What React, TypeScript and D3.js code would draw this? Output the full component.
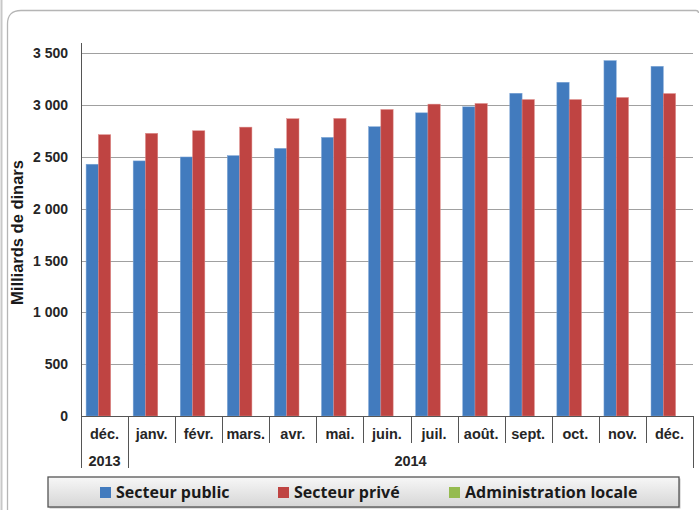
import React from "react";
import * as d3 from "d3";

const months = ["déc.", "janv.", "févr.", "mars.", "avr.", "mai.", "juin.", "juil.", "août.", "sept.", "oct.", "nov.", "déc."];
const years = [
  { label: "2013", start: 0, end: 1 },
  { label: "2014", start: 1, end: 13 },
];
const seriesNames = ["Secteur public", "Secteur privé", "Administration locale"];
const secteurPublic = [2430, 2462, 2500, 2513, 2583, 2689, 2792, 2926, 2984, 3115, 3221, 3430, 3375];
const secteurPrive = [2715, 2728, 2753, 2788, 2869, 2872, 2958, 3010, 3016, 3054, 3054, 3074, 3112];
const adminLocale = [0, 0, 0, 0, 0, 0, 0, 0, 0, 0, 0, 0, 0];
const yTicks = [0, 500, 1000, 1500, 2000, 2500, 3000, 3500];
const colors = ["#427BBE", "#BF4442", "#95BB4F"];

const W = 699;
const H = 510;
const plotLeft = 81;
const plotRight = 693;
const plotTop = 43;
const plotBottom = 416;

const fmt = (v: number) => {
  const s = String(v);
  return s.length > 3 ? s.slice(0, s.length - 3) + " " + s.slice(s.length - 3) : s;
};

export default function App() {
  const series = [secteurPublic, secteurPrive, adminLocale];
  const x0 = d3.scaleBand<number>().domain(d3.range(months.length)).range([plotLeft, plotRight]).paddingInner(0).paddingOuter(0);
  const bw = x0.bandwidth();
  const x1 = d3.scaleBand<number>().domain([0, 1, 2]).range([0, bw]).paddingInner(0).paddingOuter(0.415);
  const y = d3.scaleLinear().domain([0, 3600]).range([plotBottom, plotTop]);
  const font = "'Liberation Sans', Arial, sans-serif";
  const legendItems = [
    { x: 100, i: 0 },
    { x: 278, i: 1 },
    { x: 449, i: 2 },
  ];
  return (
    <svg width={W} height={H} style={{ position: "absolute", left: 0, top: 0, background: "#fff" }}>
      <defs>
        <linearGradient id="lg" x1="0" y1="0" x2="0" y2="1">
          <stop offset="0" stopColor="#f7f7f7" />
          <stop offset="1" stopColor="#d6d6d6" />
        </linearGradient>
      </defs>
      <rect x={0} y={0} width={W} height={H} fill="#fff" />
      <line x1={1.5} y1={0} x2={1.5} y2={H} stroke="#c8c8c8" strokeWidth={2} />
      <path d={`M7.5,${H + 5} L7.5,24 Q7.5,10.5 21,10.5 L696,10.5 Q698.5,10.5 698.5,13`} fill="none" stroke="#b5b5b5" strokeWidth={1.3} />
      {/* gridlines */}
      {yTicks.map((t) => (
        <line key={t} x1={plotLeft} x2={plotRight} y1={Math.round(y(t)) + 0.5} y2={Math.round(y(t)) + 0.5} stroke="#a0a0a0" strokeWidth={1} />
      ))}
      {/* bars */}
      {series.map((vals, si) =>
        vals.map((v, i) =>
          v > 0 ? (
            <rect
              key={si + "-" + i}
              x={(x0(i) as number) + (x1(si) as number)}
              y={y(v)}
              width={x1.bandwidth()}
              height={plotBottom - y(v)}
              fill={colors[si]}
              stroke={si === 0 ? "#7fa6d6" : "#de8a88"}
              strokeWidth={0.5}
            />
          ) : null
        )
      )}
      {/* y axis */}
      <line x1={plotLeft + 0.5} x2={plotLeft + 0.5} y1={plotTop} y2={plotBottom} stroke="#555" strokeWidth={1} />
      {yTicks.map((t) => (
        <text key={t} x={68} y={y(t)} dy="0.36em" textAnchor="end" fontFamily={font} fontWeight="bold" fontSize={14} fill="#262626">
          {fmt(t)}
        </text>
      ))}
      <text
        transform={`translate(23,${(plotTop + plotBottom) / 2 + 3}) rotate(-90)`}
        textAnchor="middle"
        fontFamily={font}
        fontWeight="bold"
        fontSize={16.5}
        fill="#1a1a1a"
      >
        Milliards de dinars
      </text>
      {/* x axis */}
      <line x1={plotLeft} x2={plotRight} y1={plotBottom + 0.5} y2={plotBottom + 0.5} stroke="#555" strokeWidth={1} />
      {d3.range(months.length + 1).map((i) => {
        const xx = i < months.length ? (x0(i) as number) : plotRight;
        const isYear = years.some((yr) => yr.start === i || yr.end === i);
        return (
          <line key={i} x1={Math.round(xx) + 0.5} x2={Math.round(xx) + 0.5} y1={plotBottom} y2={isYear ? 468 : 443} stroke="#555" strokeWidth={1} />
        );
      })}
      {months.map((m, i) => (
        <text key={i} x={(x0(i) as number) + bw / 2} y={434} dy="0.36em" textAnchor="middle" fontFamily={font} fontWeight="bold" fontSize={14.5} fill="#262626">
          {m}
        </text>
      ))}
      {years.map((yr) => (
        <text
          key={yr.label}
          x={((x0(yr.start) as number) + (yr.end < months.length ? (x0(yr.end) as number) : plotRight)) / 2}
          y={460.5}
          dy="0.36em"
          textAnchor="middle"
          fontFamily={font}
          fontWeight="bold"
          fontSize={14.5}
          fill="#262626"
        >
          {yr.label}
        </text>
      ))}
      {/* legend */}
      <rect x={49.5} y={478.5} width={631} height={30} fill="#888" opacity={0.5} />
      <rect x={48} y={477} width={631} height={30} fill="url(#lg)" stroke="#555" strokeWidth={1.3} />
      {legendItems.map((it) => (
        <g key={it.i}>
          <rect x={it.x} y={487} width={11} height={11} fill={colors[it.i]} />
          <text x={it.x + 16} y={492.5} dy="0.36em" fontFamily="'Open Sans', sans-serif" fontWeight="bold" fontSize={16} fill="#1a1a1a">
            {seriesNames[it.i]}
          </text>
        </g>
      ))}
    </svg>
  );
}
